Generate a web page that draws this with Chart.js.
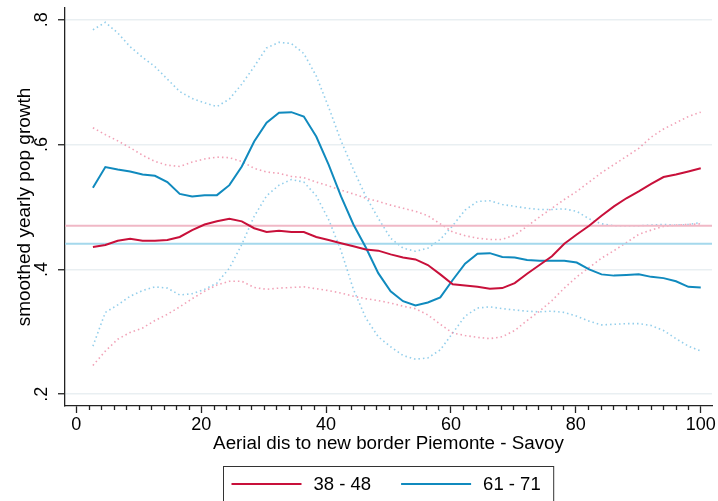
<!DOCTYPE html>
<html>
<head>
<meta charset="utf-8">
<script src="https://cdn.jsdelivr.net/npm/chart.js@4"></script>
<style>
  html, body { margin: 0; padding: 0; background: #fff; }
  canvas { display: block; }
</style>
</head>
<body>
<canvas id="growthChart" width="718" height="501"></canvas>
<script>
// distance grid of the smoother (km)
var dist = [2.67, 4.66, 6.64, 8.63, 10.62, 12.60, 14.59, 16.57, 18.56, 20.55,
	22.53, 24.52, 26.51, 28.49, 30.48, 32.47, 34.45, 36.44, 38.43, 40.41,
	42.40, 44.38, 46.37, 48.36, 50.34, 52.33, 54.32, 56.30, 58.29, 60.28,
	62.26, 64.25, 66.23, 68.22, 70.21, 72.19, 74.18, 76.17, 78.15, 80.14,
	82.13, 84.11, 86.10, 88.09, 90.07, 92.06, 94.04, 96.03, 98.02, 100.00];

// 1838-48: fit and confidence band
var early = [0.436, 0.439, 0.446, 0.449, 0.446, 0.446, 0.447, 0.452, 0.463, 0.472,
	0.477, 0.481, 0.477, 0.466, 0.460, 0.462, 0.460, 0.460, 0.452, 0.447,
	0.442, 0.437, 0.432, 0.430, 0.424, 0.419, 0.416, 0.407, 0.392, 0.376,
	0.374, 0.372, 0.369, 0.370, 0.378, 0.393, 0.407, 0.421, 0.441, 0.456,
	0.470, 0.486, 0.501, 0.514, 0.525, 0.537, 0.548, 0.552, 0.557, 0.562];
var earlyHi = [0.627, 0.616, 0.606, 0.595, 0.583, 0.573, 0.567, 0.565, 0.572, 0.577,
	0.580, 0.579, 0.573, 0.562, 0.556, 0.554, 0.549, 0.547, 0.540, 0.534,
	0.527, 0.521, 0.514, 0.509, 0.503, 0.498, 0.493, 0.486, 0.473, 0.460,
	0.454, 0.450, 0.448, 0.448, 0.455, 0.469, 0.484, 0.498, 0.512, 0.525,
	0.540, 0.555, 0.568, 0.581, 0.594, 0.612, 0.625, 0.635, 0.645, 0.652];
var earlyLo = [0.246, 0.269, 0.288, 0.299, 0.306, 0.318, 0.328, 0.340, 0.353, 0.365,
	0.375, 0.381, 0.381, 0.371, 0.368, 0.370, 0.371, 0.372, 0.369, 0.366,
	0.362, 0.357, 0.353, 0.350, 0.346, 0.341, 0.337, 0.327, 0.312, 0.298,
	0.294, 0.291, 0.289, 0.292, 0.302, 0.318, 0.333, 0.350, 0.370, 0.388,
	0.403, 0.418, 0.430, 0.443, 0.456, 0.463, 0.469, 0.471, 0.472, 0.473];

// 1861-71: fit and confidence band
var late = [0.531, 0.564, 0.560, 0.557, 0.552, 0.550, 0.540, 0.521, 0.517, 0.519,
	0.519, 0.535, 0.565, 0.605, 0.635, 0.651, 0.652, 0.645, 0.613, 0.568,
	0.517, 0.472, 0.435, 0.394, 0.365, 0.349, 0.342, 0.347, 0.355, 0.383,
	0.409, 0.425, 0.426, 0.420, 0.419, 0.415, 0.414, 0.414, 0.414, 0.411,
	0.400, 0.392, 0.390, 0.391, 0.392, 0.388, 0.386, 0.381, 0.372, 0.371];
var lateHi = [0.784, 0.796, 0.779, 0.757, 0.740, 0.725, 0.705, 0.685, 0.674, 0.667,
	0.661, 0.673, 0.697, 0.725, 0.755, 0.764, 0.762, 0.746, 0.710, 0.660,
	0.606, 0.560, 0.517, 0.482, 0.450, 0.434, 0.429, 0.434, 0.448, 0.470,
	0.495, 0.509, 0.510, 0.504, 0.501, 0.498, 0.496, 0.496, 0.497, 0.493,
	0.481, 0.473, 0.470, 0.470, 0.470, 0.471, 0.472, 0.471, 0.472, 0.475];
var lateLo = [0.277, 0.331, 0.343, 0.357, 0.366, 0.372, 0.370, 0.359, 0.361, 0.368,
	0.378, 0.402, 0.440, 0.485, 0.518, 0.535, 0.544, 0.540, 0.518, 0.480,
	0.430, 0.368, 0.322, 0.292, 0.276, 0.262, 0.256, 0.258, 0.271, 0.298,
	0.325, 0.338, 0.340, 0.337, 0.335, 0.333, 0.332, 0.333, 0.331, 0.325,
	0.317, 0.311, 0.312, 0.313, 0.313, 0.310, 0.302, 0.289, 0.277, 0.269];

// period means
var earlyMean = 0.470;
var lateMean = 0.441;

var seriesNames = ["38 - 48", "61 - 71"];
var xTicks = [0, 20, 40, 60, 80, 100];
var yTicks = [0.2, 0.4, 0.6, 0.8];
var xMin = -1.8, xMax = 101.8;
var yMin = 0.181, yMax = 0.819;

var red = "rgb(200,16,58)";
var blue = "rgb(16,138,190)";
var redDot = "rgba(236,130,158,0.75)";
var blueDot = "rgba(110,190,228,0.75)";
var redRef = "rgb(240,184,198)";
var blueRef = "rgb(165,216,236)";
var axisColor = "#222";
var gridColor = "#e9eff2";
var fontFamily = "'Liberation Sans', Arial, sans-serif";

function pts(arr) {
	return dist.map(function(x, i) { return { x: x, y: arr[i] }; });
}
function flat(v) {
	return [{ x: xMin, y: v }, { x: xMax, y: v }];
}
function fitLine(label, arr, color) {
	return { label: label, data: pts(arr), borderColor: color, borderWidth: 2, pointRadius: 0, tension: 0, order: 0 };
}
function band(arr, color) {
	return { data: pts(arr), borderColor: color, borderWidth: 1.6, borderDash: [1.5, 3], borderCapStyle: "butt", pointRadius: 0, tension: 0, order: 2 };
}
function ref(v, color) {
	return { data: flat(v), borderColor: color, borderWidth: 2, pointRadius: 0, order: 1 };
}

// small ticks every 2 km on the x axis
var minorTicks = {
	id: "minorTicks",
	afterDraw: function(chart) {
		var ctx = chart.ctx, sx = chart.scales.x, b = chart.chartArea.bottom;
		ctx.save();
		ctx.strokeStyle = axisColor;
		ctx.lineWidth = 1.3;
		for (var v = xTicks[0]; v <= xTicks[xTicks.length - 1]; v += 2) {
			if (v % 20 === 0) continue;
			var px = Math.round(sx.getPixelForValue(v)) + 0.5;
			ctx.beginPath();
			ctx.moveTo(px, b);
			ctx.lineTo(px, b + 4);
			ctx.stroke();
		}
		ctx.restore();
	}
};

// boxed legend below the axis title
var boxLegend = {
	id: "boxLegend",
	afterDraw: function(chart) {
		var ctx = chart.ctx, area = chart.chartArea;
		var items = [{ label: seriesNames[0], color: red }, { label: seriesNames[1], color: blue }];
		ctx.save();
		ctx.font = "18.5px " + fontFamily;
		var lineLen = 70, padL = 8, padR = 13, gapText = 12, gapItem = 30;
		var w = padL + padR + gapItem;
		items.forEach(function(it) { it.w = ctx.measureText(it.label).width; w += lineLen + gapText + it.w; });
		var left = Math.round((area.left + area.right) / 2 - w / 2) + 0.5;
		var top = 466.5, cy = 484;
		ctx.strokeStyle = "#333";
		ctx.lineWidth = 1;
		ctx.strokeRect(left, top, w, 40);
		var x = left + padL;
		ctx.textBaseline = "middle";
		ctx.fillStyle = "#000";
		items.forEach(function(it) {
			ctx.strokeStyle = it.color;
			ctx.lineWidth = 2;
			ctx.beginPath();
			ctx.moveTo(x, cy);
			ctx.lineTo(x + lineLen, cy);
			ctx.stroke();
			x += lineLen + gapText;
			ctx.fillText(it.label, x, cy + 1);
			x += it.w + gapItem;
		});
		ctx.restore();
	}
};

Chart.defaults.font.family = fontFamily;
Chart.defaults.font.size = 18;
Chart.defaults.color = "#000";

var ctx = document.getElementById("growthChart");

var growthChart = new Chart(ctx, {
	type: "line",
	data: {
		datasets: [
			fitLine(seriesNames[0], early, red),
			fitLine(seriesNames[1], late, blue),
			ref(earlyMean, redRef),
			ref(lateMean, blueRef),
			band(earlyHi, redDot),
			band(earlyLo, redDot),
			band(lateHi, blueDot),
			band(lateLo, blueDot)
		]
	},
	options: {
		responsive: false,
		animation: false,
		events: [],
		layout: { padding: { top: 8, right: 6, bottom: 38, left: 0 } },
		plugins: {
			legend: { display: false },
			tooltip: { enabled: false }
		},
		scales: {
			x: {
				type: "linear",
				min: xMin,
				max: xMax,
				afterBuildTicks: function(s) { s.ticks = xTicks.map(function(v) { return { value: v }; }); },
				afterFit: function(s) { s.height = 57; s.paddingLeft = 0; s.paddingRight = 0; },
				grid: { drawOnChartArea: false, tickLength: 7, tickColor: axisColor, tickWidth: 1.3 },
				border: { color: axisColor, width: 1.3 },
				ticks: { padding: 1, maxRotation: 0, autoSkip: false },
				title: { display: true, text: "Aerial dis to new border Piemonte - Savoy", font: { size: 18.8 }, padding: { top: 0, bottom: 8 } }
			},
			y: {
				type: "linear",
				min: yMin,
				max: yMax,
				afterBuildTicks: function(s) { s.ticks = yTicks.map(function(v) { return { value: v }; }); },
				afterFit: function(s) { s.width = 65; s.paddingTop = 0; s.paddingBottom = 0; },
				grid: { color: gridColor, lineWidth: 1.5, tickLength: 7, tickColor: axisColor, tickWidth: 1.3 },
				border: { color: axisColor, width: 1.3 },
				ticks: {
					minRotation: 90,
					maxRotation: 90,
					crossAlign: "center",
					padding: 8,
					callback: function(v) { return v.toFixed(1).replace(/^0/, ""); }
				},
				title: { display: true, text: "smoothed yearly pop growth", font: { size: 19 }, padding: { top: 13, bottom: 0 } }
			}
		}
	},
	plugins: [minorTicks, boxLegend]
});
</script>
</body>
</html>
